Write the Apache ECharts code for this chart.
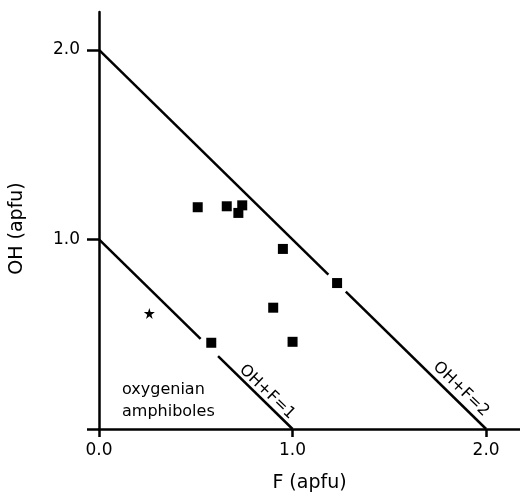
<!DOCTYPE html>
<html>
<head>
<meta charset="utf-8">
<script src="https://cdn.jsdelivr.net/npm/echarts@6/dist/echarts.min.js"></script>
<style>
  html, body { margin: 0; padding: 0; background: #fff; }
  #chart { width: 520px; height: 492px; }
</style>
</head>
<body>
<div id="chart"></div>
<script>
// measured points (F, OH)
var squarePoints = [
  [0.51, 1.17], [0.66, 1.175], [0.74, 1.18], [0.72, 1.14],
  [0.95, 0.95], [1.23, 0.77], [0.90, 0.64], [0.58, 0.455], [1.00, 0.46]
];
var starPoints = [[0.26, 0.61]];

// OH+F=1 and OH+F=2 lines, broken where they pass a point
var line1Segments = [[[0, 1], [0.525, 0.475]], [[0.615, 0.385], [1, 0]]];
var line2Segments = [[[0, 2], [1.185, 0.815]], [[1.275, 0.725], [2, 0]]];

var tickValues = [0, 1, 2];
var lineLabels = [
  { text: 'OH+F=1', at: [0.868, 0.195] },
  { text: 'OH+F=2', at: [1.87, 0.21] }
];
var fieldLabel = { text: 'oxygenian\namphiboles', at: [0.119, 0.148] };

var font = 'DejaVu Sans';
var starPath = 'path://M50,0 L61,35 L98,35 L68,57 L79,91 L50,70 L21,91 L32,57 L2,35 L39,35 Z';

var myChart = echarts.init(document.getElementById('chart'));

var series = [];
line1Segments.concat(line2Segments).forEach(function (seg) {
  series.push({
    type: 'line',
    data: seg,
    symbol: 'none',
    silent: true,
    lineStyle: { color: '#000', width: 2.5 }
  });
});
series.push({
  type: 'scatter',
  data: squarePoints,
  symbol: 'rect',
  symbolSize: 10,
  itemStyle: { color: '#000', opacity: 1 }
});
series.push({
  type: 'scatter',
  data: starPoints,
  symbol: starPath,
  symbolSize: 11,
  itemStyle: { color: '#000', opacity: 1 }
});
series.push({
  type: 'scatter',
  symbolSize: 0,
  itemStyle: { opacity: 1 },
  data: lineLabels.map(function (l) {
    return { value: l.at, name: l.text };
  }),
  label: {
    show: true,
    position: 'inside',
    formatter: '{b}',
    rotate: -44,
    color: '#000',
    fontFamily: font,
    fontSize: 16
  }
});
series.push({
  type: 'scatter',
  symbolSize: 0,
  itemStyle: { opacity: 1 },
  data: [{ value: fieldLabel.at, name: fieldLabel.text }],
  label: {
    show: true,
    position: 'inside',
    align: 'left',
    formatter: '{b}',
    color: '#000',
    fontFamily: font,
    fontSize: 16,
    lineHeight: 22
  }
});

myChart.setOption({
  animation: false,
  grid: { left: 99, right: 0, top: 12, bottom: 63, containLabel: false, outerBoundsMode: 'none' },
  xAxis: {
    type: 'value',
    min: 0,
    max: 2.175,
    name: 'F (apfu)',
    nameLocation: 'middle',
    nameGap: 45,
    nameTextStyle: { color: '#000', fontFamily: font, fontSize: 19 },
    splitLine: { show: false },
    axisLine: { lineStyle: { color: '#000', width: 2.5 } },
    axisTick: { customValues: tickValues, length: 8, lineStyle: { color: '#000', width: 2.5 } },
    axisLabel: {
      customValues: tickValues,
      margin: 13,
      color: '#000',
      fontFamily: font,
      fontSize: 17,
      formatter: function (v) { return v.toFixed(1); }
    }
  },
  yAxis: {
    type: 'value',
    min: 0,
    max: 2.2,
    name: 'OH (apfu)',
    nameLocation: 'middle',
    nameGap: 72,
    nameTextStyle: { color: '#000', fontFamily: font, fontSize: 19, padding: [0, 16, 0, 0] },
    splitLine: { show: false },
    axisLine: { show: true, lineStyle: { color: '#000', width: 2.5 } },
    axisTick: { show: true, customValues: tickValues, length: 12, lineStyle: { color: '#000', width: 2.5 } },
    axisLabel: {
      customValues: tickValues.slice(1),
      margin: 19,
      color: '#000',
      fontFamily: font,
      fontSize: 17,
      formatter: function (v) { return v.toFixed(1); }
    }
  },
  series: series
});

window.addEventListener('resize', function () {
  myChart.resize();
});
</script>
</body>
</html>
